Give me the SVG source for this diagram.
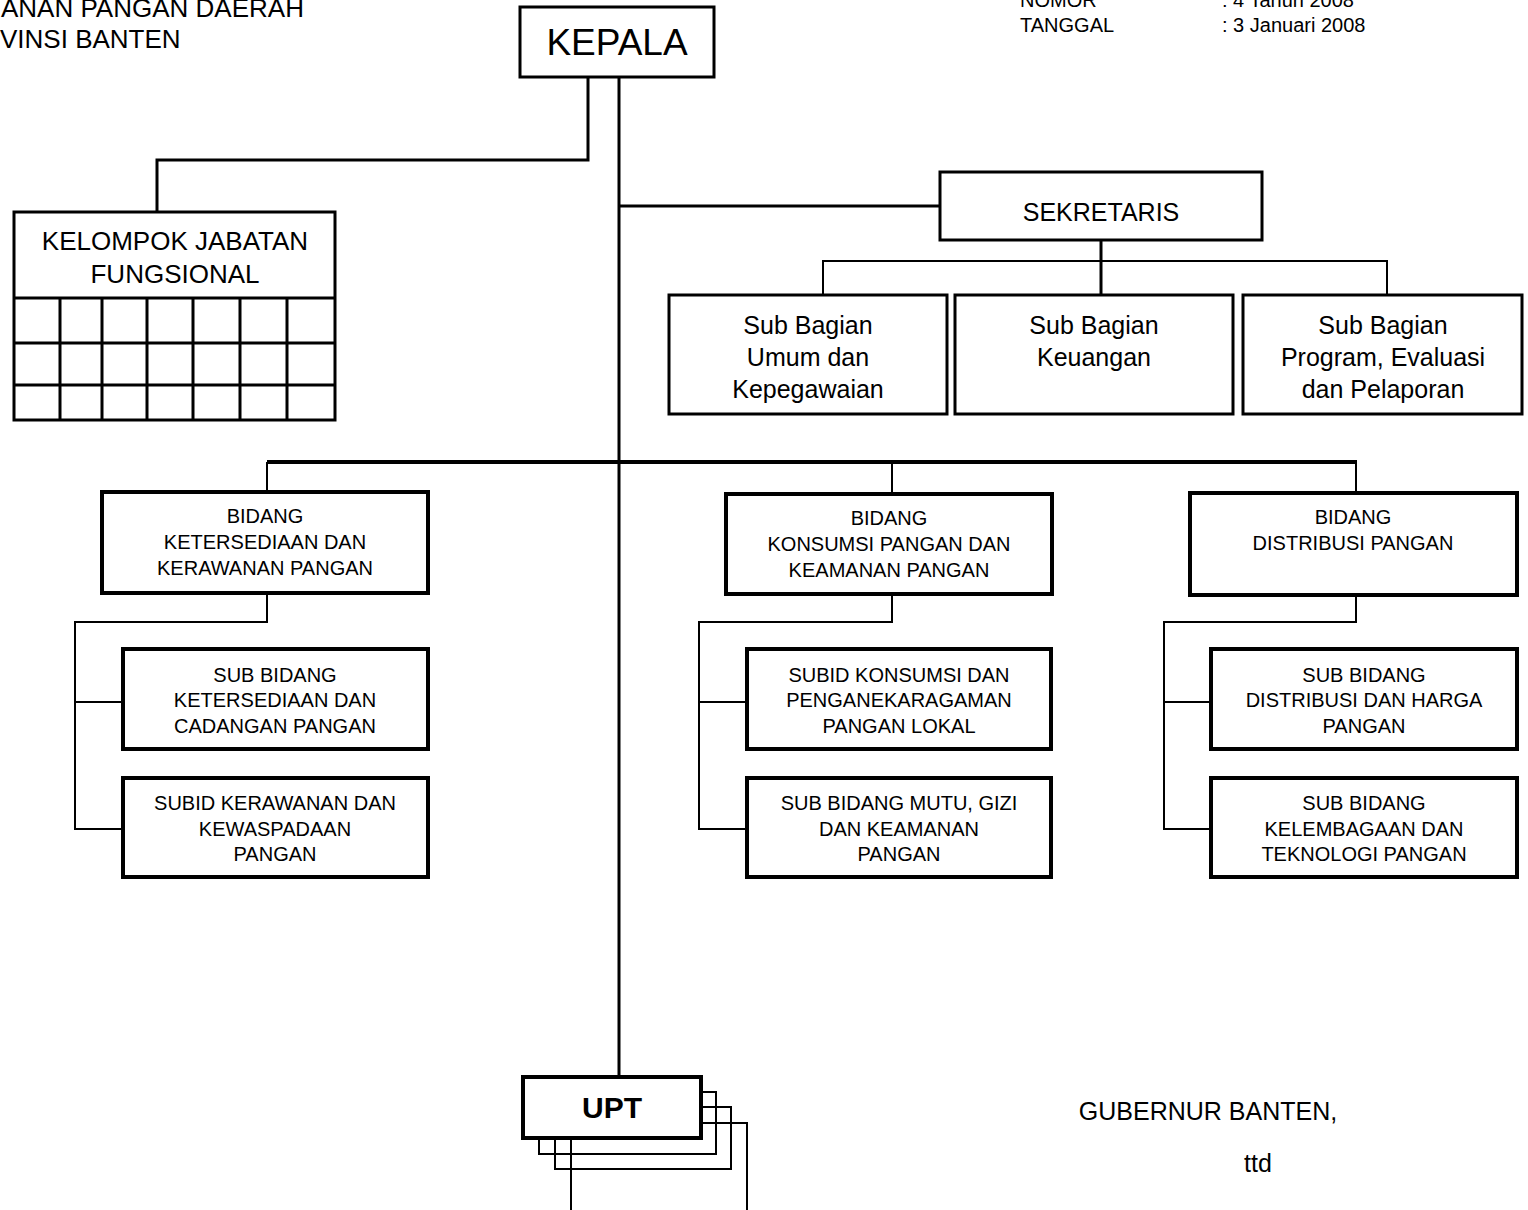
<svg xmlns="http://www.w3.org/2000/svg" width="1528" height="1210" viewBox="0 0 1528 1210">
<style>
text{font-family:"Liberation Sans",Arial,sans-serif;fill:#000}
.box{fill:#fff;stroke:#000;stroke-width:3}
.bx4{fill:#fff;stroke:#000;stroke-width:4}
.thin{fill:none;stroke:#000;stroke-width:2}
.thick{fill:none;stroke:#000;stroke-width:3}
.bus{fill:none;stroke:#000;stroke-width:4}
.c{text-anchor:middle}
.t19{font-size:20px}
.t24{font-size:25px}
</style>
<rect width="1528" height="1210" fill="#fff"/>
<g id="header">
<text x="1" y="17" font-size="26">ANAN PANGAN DAERAH</text>
<text x="0" y="48" font-size="26">VINSI BANTEN</text>
<text x="1020" y="7" font-size="20">NOMOR</text>
<text x="1222" y="7" font-size="20">:  4 Tahun 2008</text>
<text x="1020" y="32" font-size="20">TANGGAL</text>
<text x="1222" y="32" font-size="20">:  3 Januari 2008</text>
</g>
<g id="connectors">
<polyline class="thick" points="588,77 588,160 157,160 157,212"/>
<line class="thick" x1="619" y1="77" x2="619" y2="1077"/>
<line class="thick" x1="619" y1="206" x2="940" y2="206"/>
<line class="thick" x1="1101" y1="240" x2="1101" y2="295"/>
<polyline class="thin" points="823,295 823,261 1387,261 1387,295"/>
<line class="bus" x1="267" y1="462" x2="1357" y2="462"/>
<line class="thin" x1="267" y1="462" x2="267" y2="492"/>
<line class="thin" x1="892" y1="462" x2="892" y2="494"/>
<line class="thin" x1="1356" y1="462" x2="1356" y2="493"/>
<polyline class="thin" points="267,593 267,622 75,622 75,829 123,829"/>
<line class="thin" x1="75" y1="702" x2="123" y2="702"/>
<polyline class="thin" points="892,594 892,622 699,622 699,829 747,829"/>
<line class="thin" x1="699" y1="702" x2="747" y2="702"/>
<polyline class="thin" points="1356,595 1356,622 1164,622 1164,829 1211,829"/>
<line class="thin" x1="1164" y1="702" x2="1211" y2="702"/>
</g>
<g id="kepala">
<rect class="box" x="520" y="7" width="194" height="70"/>
<text x="617" y="55" class="c" font-size="37">KEPALA</text>
</g>
<g id="kelompok">
<rect class="box" x="14" y="212" width="321" height="208"/>
<path class="thick" d="M14,298H335M14,343H335M14,385H335M60,298V420M102,298V420M147,298V420M193,298V420M240,298V420M287,298V420"/>
<text x="175" y="250" class="c" font-size="26">KELOMPOK JABATAN</text>
<text x="175" y="283" class="c" font-size="26">FUNGSIONAL</text>
</g>
<g id="sekretaris">
<rect class="box" x="940" y="172" width="322" height="68"/>
<text x="1101" y="221" class="c t24">SEKRETARIS</text>
</g>
<g id="subbag-umum">
<rect class="box" x="669" y="295" width="278" height="119"/>
<text x="808" y="334" class="c t24">Sub Bagian</text>
<text x="808" y="366" class="c t24">Umum dan</text>
<text x="808" y="398" class="c t24">Kepegawaian</text>
</g>
<g id="subbag-keuangan">
<rect class="box" x="955" y="295" width="278" height="119"/>
<text x="1094" y="334" class="c t24">Sub Bagian</text>
<text x="1094" y="366" class="c t24">Keuangan</text>
</g>
<g id="subbag-program">
<rect class="box" x="1243" y="295" width="279" height="119"/>
<text x="1383" y="334" class="c t24">Sub Bagian</text>
<text x="1383" y="366" class="c t24">Program, Evaluasi</text>
<text x="1383" y="398" class="c t24">dan Pelaporan</text>
</g>
<g id="bidang-ketersediaan">
<rect class="bx4" x="102" y="492" width="326" height="101"/>
<text x="265" y="523" class="c t19">BIDANG</text>
<text x="265" y="549" class="c t19">KETERSEDIAAN DAN</text>
<text x="265" y="575" class="c t19">KERAWANAN PANGAN</text>
</g>
<g id="subbid-ketersediaan">
<rect class="bx4" x="123" y="649" width="305" height="100"/>
<text x="275" y="682" class="c t19">SUB BIDANG</text>
<text x="275" y="707" class="c t19">KETERSEDIAAN DAN</text>
<text x="275" y="733" class="c t19">CADANGAN PANGAN</text>
</g>
<g id="subbid-kerawanan">
<rect class="bx4" x="123" y="778" width="305" height="99"/>
<text x="275" y="810" class="c t19">SUBID KERAWANAN DAN</text>
<text x="275" y="836" class="c t19">KEWASPADAAN</text>
<text x="275" y="861" class="c t19">PANGAN</text>
</g>
<g id="bidang-konsumsi">
<rect class="bx4" x="726" y="494" width="326" height="100"/>
<text x="889" y="525" class="c t19">BIDANG</text>
<text x="889" y="551" class="c t19">KONSUMSI PANGAN DAN</text>
<text x="889" y="577" class="c t19">KEAMANAN PANGAN</text>
</g>
<g id="subbid-konsumsi">
<rect class="bx4" x="747" y="649" width="304" height="100"/>
<text x="899" y="682" class="c t19">SUBID KONSUMSI DAN</text>
<text x="899" y="707" class="c t19">PENGANEKARAGAMAN</text>
<text x="899" y="733" class="c t19">PANGAN LOKAL</text>
</g>
<g id="subbid-mutu">
<rect class="bx4" x="747" y="778" width="304" height="99"/>
<text x="899" y="810" class="c t19">SUB BIDANG MUTU, GIZI</text>
<text x="899" y="836" class="c t19">DAN KEAMANAN</text>
<text x="899" y="861" class="c t19">PANGAN</text>
</g>
<g id="bidang-distribusi">
<rect class="bx4" x="1190" y="493" width="327" height="102"/>
<text x="1353" y="524" class="c t19">BIDANG</text>
<text x="1353" y="550" class="c t19">DISTRIBUSI PANGAN</text>
</g>
<g id="subbid-distribusi">
<rect class="bx4" x="1211" y="649" width="306" height="100"/>
<text x="1364" y="682" class="c t19">SUB BIDANG</text>
<text x="1364" y="707" class="c t19">DISTRIBUSI DAN HARGA</text>
<text x="1364" y="733" class="c t19">PANGAN</text>
</g>
<g id="subbid-kelembagaan">
<rect class="bx4" x="1211" y="778" width="306" height="99"/>
<text x="1364" y="810" class="c t19">SUB BIDANG</text>
<text x="1364" y="836" class="c t19">KELEMBAGAAN DAN</text>
<text x="1364" y="861" class="c t19">TEKNOLOGI PANGAN</text>
</g>
<g id="upt">
<rect class="thin" x="571" y="1123" width="176" height="100" fill="#fff"/>
<rect class="thin" x="555" y="1107" width="176" height="62" fill="#fff"/>
<rect class="thin" x="539" y="1092" width="177" height="62" fill="#fff"/>
<rect class="bx4" x="523" y="1077" width="178" height="61"/>
<text x="612" y="1118" class="c" font-size="30" font-weight="bold">UPT</text>
</g>
<g id="signature">
<text x="1208" y="1120" class="c" font-size="25">GUBERNUR BANTEN,</text>
<text x="1258" y="1172" class="c" font-size="25">ttd</text>
</g>
</svg>
